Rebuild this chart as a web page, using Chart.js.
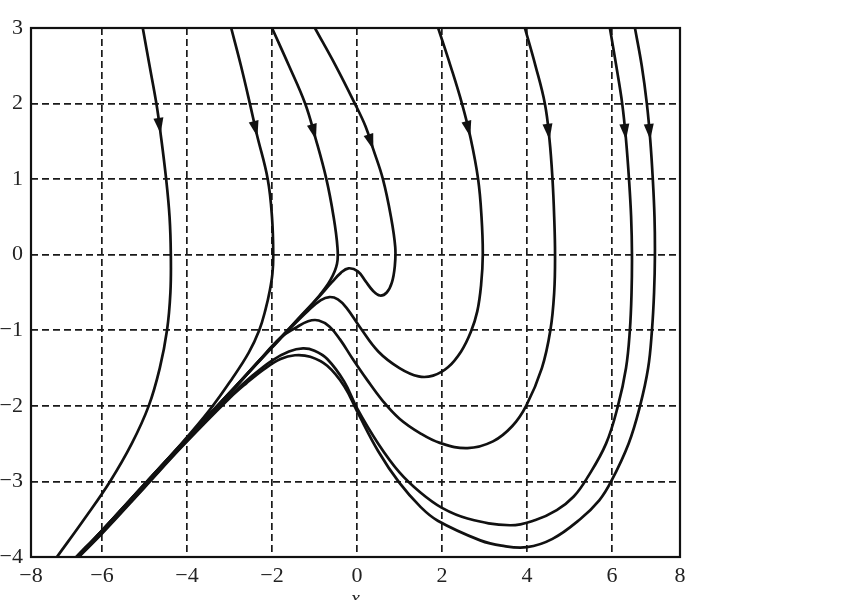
<!DOCTYPE html>
<html>
<head>
<meta charset="utf-8">
<script src="https://cdn.jsdelivr.net/npm/chart.js@4.4.0/dist/chart.umd.min.js"></script>
<style>
  html, body { margin: 0; padding: 0; background: #fff; }
  canvas { display: block; }
</style>
</head>
<body>
<canvas id="phase" width="860" height="600"></canvas>
<script>
// axis limits (scan is slightly squeezed at the edges, so the outer labels sit on the frame)
const xMin = -7.67, xMax = 7.6
const yMin = -4, yMax = 3
const xTickValues = [xMin, -6, -4, -2, 0, 2, 4, 6, xMax]
const xTickLabels = ['−8', '−6', '−4', '−2', '0', '2', '4', '6', '8']

// trajectories (x, y)
const curveA = [[-5.04,3],[-4.88,2.5],[-4.72,2],[-4.62,1.6],[-4.49,1],[-4.41,0.5],[-4.38,0],[-4.39,-0.5],[-4.47,-1],[-4.64,-1.5],[-4.9,-2],[-5.3,-2.5],[-5.81,-3],[-6.42,-3.5],[-7.06,-4]]
const curveB = [[-2.96,3],[-2.73,2.5],[-2.52,2],[-2.36,1.6],[-2.1,1],[-2.0,0.5],[-1.97,0],[-1.99,-0.25],[-2.05,-0.47],[-2.15,-0.72],[-2.3,-1.0],[-2.55,-1.3],[-2.95,-1.65],[-3.46,-2.05],[-4.1,-2.48],[-4.94,-3.0],[-6.0,-3.65],[-6.56,-4]]
const curveC = [[-2.0,3],[-1.6,2.5],[-1.22,2],[-0.98,1.55],[-0.72,1],[-0.55,0.5],[-0.46,0.1],[-0.47,-0.12],[-0.62,-0.33],[-0.9,-0.55],[-1.34,-0.82],[-2.0,-1.22],[-3.0,-1.83],[-4.1,-2.49],[-5.0,-3.04],[-6.0,-3.65],[-6.6,-4]]
const curveD = [[-0.99,3],[-0.5,2.5],[-0.05,2],[0.2,1.7],[0.38,1.4],[0.61,1],[0.8,0.5],[0.9,0.1],[0.89,-0.15],[0.82,-0.37],[0.7,-0.5],[0.54,-0.54],[0.38,-0.48],[0.2,-0.35],[0.02,-0.22],[-0.2,-0.18],[-0.38,-0.24],[-0.6,-0.37],[-0.9,-0.56],[-1.34,-0.83],[-2.0,-1.22],[-3.0,-1.83],[-4.1,-2.49],[-5.0,-3.04],[-6.0,-3.65],[-6.6,-4]]
const curveE = [[1.91,3],[2.2,2.5],[2.47,2],[2.67,1.55],[2.85,1],[2.93,0.5],[2.96,0],[2.92,-0.4],[2.83,-0.75],[2.68,-1.02],[2.45,-1.28],[2.14,-1.49],[1.79,-1.6],[1.45,-1.61],[1.0,-1.5],[0.5,-1.28],[0.07,-0.96],[-0.25,-0.7],[-0.45,-0.59],[-0.65,-0.56],[-0.85,-0.6],[-1.15,-0.74],[-1.6,-0.99],[-2.0,-1.23],[-3.0,-1.83],[-4.1,-2.49],[-5.0,-3.04],[-6.0,-3.65],[-6.6,-4]]
const curveF = [[3.95,3],[4.2,2.5],[4.42,2],[4.53,1.52],[4.6,1],[4.64,0.5],[4.66,0],[4.64,-0.5],[4.55,-1],[4.35,-1.5],[3.98,-2],[3.65,-2.27],[3.2,-2.47],[2.6,-2.56],[1.95,-2.49],[1.48,-2.36],[1.0,-2.17],[0.6,-1.93],[0.23,-1.65],[-0.1,-1.38],[-0.4,-1.12],[-0.65,-0.95],[-0.9,-0.87],[-1.15,-0.88],[-1.45,-0.97],[-1.8,-1.1],[-2.3,-1.4],[-3.0,-1.84],[-4.1,-2.5],[-5.0,-3.05],[-6.0,-3.66],[-6.58,-4]]
const curveG = [[5.95,3],[6.1,2.5],[6.24,2],[6.33,1.52],[6.4,1],[6.45,0.5],[6.47,0],[6.46,-0.5],[6.42,-1],[6.33,-1.5],[6.14,-2],[5.86,-2.5],[5.42,-2.95],[5.1,-3.2],[4.7,-3.38],[4.2,-3.51],[3.6,-3.58],[2.6,-3.49],[2.0,-3.35],[1.5,-3.15],[1.0,-2.88],[0.5,-2.5],[0.0,-2.03],[-0.3,-1.68],[-0.7,-1.38],[-1.0,-1.27],[-1.27,-1.24],[-1.6,-1.28],[-2.0,-1.4],[-2.5,-1.62],[-3.0,-1.88],[-4.1,-2.52],[-5.0,-3.07],[-6.0,-3.68],[-6.55,-4]]
const curveH = [[6.54,3],[6.7,2.5],[6.82,2],[6.9,1.52],[6.96,1],[7.0,0.5],[7.01,0],[6.99,-0.5],[6.94,-1],[6.85,-1.5],[6.66,-2],[6.39,-2.5],[5.98,-3],[5.7,-3.25],[5.25,-3.5],[4.6,-3.76],[4.0,-3.87],[3.4,-3.85],[2.9,-3.78],[1.9,-3.52],[1.5,-3.34],[1.0,-3.02],[0.5,-2.6],[0.0,-2.07],[-0.3,-1.74],[-0.7,-1.47],[-1.1,-1.35],[-1.46,-1.33],[-1.8,-1.38],[-2.2,-1.52],[-2.6,-1.7],[-3.0,-1.9],[-4.1,-2.53],[-5.0,-3.08],[-6.0,-3.69],[-6.55,-4]]

const curves = [curveA, curveB, curveC, curveD, curveE, curveF, curveG, curveH]
// y value of each arrow tip
const arrowTips = [1.6, 1.56, 1.52, 1.39, 1.56, 1.52, 1.52, 1.52]

const arrowPlugin = {
  id: 'arrows',
  afterDatasetsDraw(chart) {
    const ctx = chart.ctx
    const xs = chart.scales.x, ys = chart.scales.y
    curves.forEach((pts, k) => {
      const ty = arrowTips[k]
      for (let i = 1; i < pts.length; i++) {
        const p0 = pts[i-1], p1 = pts[i]
        if ((p0[1] - ty) * (p1[1] - ty) <= 0 && p0[1] !== p1[1]) {
          const t = (ty - p0[1]) / (p1[1] - p0[1])
          const x = p0[0] + t * (p1[0] - p0[0])
          const px = xs.getPixelForValue(x), py = ys.getPixelForValue(ty)
          const dx = xs.getPixelForValue(p1[0]) - xs.getPixelForValue(p0[0])
          const dy = ys.getPixelForValue(p1[1]) - ys.getPixelForValue(p0[1])
          const len = Math.hypot(dx, dy)
          const ux = dx / len, uy = dy / len
          const L = 16, W = 5
          ctx.save()
          ctx.fillStyle = '#111'
          ctx.beginPath()
          ctx.moveTo(px, py)
          ctx.lineTo(px - ux*L - uy*W, py - uy*L + ux*W)
          ctx.lineTo(px - ux*L + uy*W, py - uy*L - ux*W)
          ctx.closePath()
          ctx.fill()
          ctx.restore()
          break
        }
      }
    })
  }
}

const framePlugin = {
  id: 'frame',
  afterDraw(chart) {
    const a = chart.chartArea, ctx = chart.ctx
    ctx.save()
    ctx.strokeStyle = '#111'
    ctx.lineWidth = 2.2
    ctx.strokeRect(a.left, a.top, a.right - a.left, a.bottom - a.top)
    ctx.restore()
  }
}

const gridColor = (c) => (c.index === 0 || c.index === c.scale.ticks.length - 1) ? 'rgba(0,0,0,0)' : '#1a1a1a'
const serif = "'Liberation Serif', 'Times New Roman', Times, serif"
const tickFont = { family: serif, size: 22 }

Chart.defaults.font.family = serif

new Chart(document.getElementById('phase').getContext('2d'), {
  type: 'scatter',
  data: {
    datasets: curves.map(pts => ({
      data: pts.map(p => ({ x: p[0], y: p[1] })),
      showLine: true,
      borderColor: '#111',
      borderWidth: 2.7,
      pointRadius: 0,
      tension: 0.4,
      fill: false
    }))
  },
  options: {
    responsive: false,
    animation: false,
    layout: { padding: { top: 28, right: 180, left: 0, bottom: 0 } },
    plugins: { legend: { display: false }, tooltip: { enabled: false } },
    scales: {
      x: {
        type: 'linear',
        min: xMin, max: xMax,
        afterBuildTicks: (s) => { s.ticks = xTickValues.map(v => ({ value: v })) },
        afterFit: (s) => { s.height = 43 },
        ticks: {
          color: '#222', font: tickFont, padding: 6, maxRotation: 0, autoSkip: false,
          callback: (v, i) => xTickLabels[i]
        },
        grid: { color: gridColor, lineWidth: 1.7, tickLength: 0, drawTicks: false },
        border: { display: false, dash: [7, 4] },
        title: { display: true, text: 'x', color: '#222', font: { family: serif, size: 20, style: 'italic' }, padding: { top: 0, bottom: -12 } }
      },
      y: {
        type: 'linear',
        min: yMin, max: yMax,
        afterFit: (s) => { s.width = 31 },
        ticks: {
          stepSize: 1, color: '#222', font: tickFont, padding: 8,
          callback: (v) => (v < 0 ? '−' + Math.abs(v) : '' + v)
        },
        grid: { color: gridColor, lineWidth: 1.7, drawTicks: false },
        border: { display: false, dash: [7, 4] }
      }
    }
  },
  plugins: [arrowPlugin, framePlugin]
})
</script>
</body>
</html>
